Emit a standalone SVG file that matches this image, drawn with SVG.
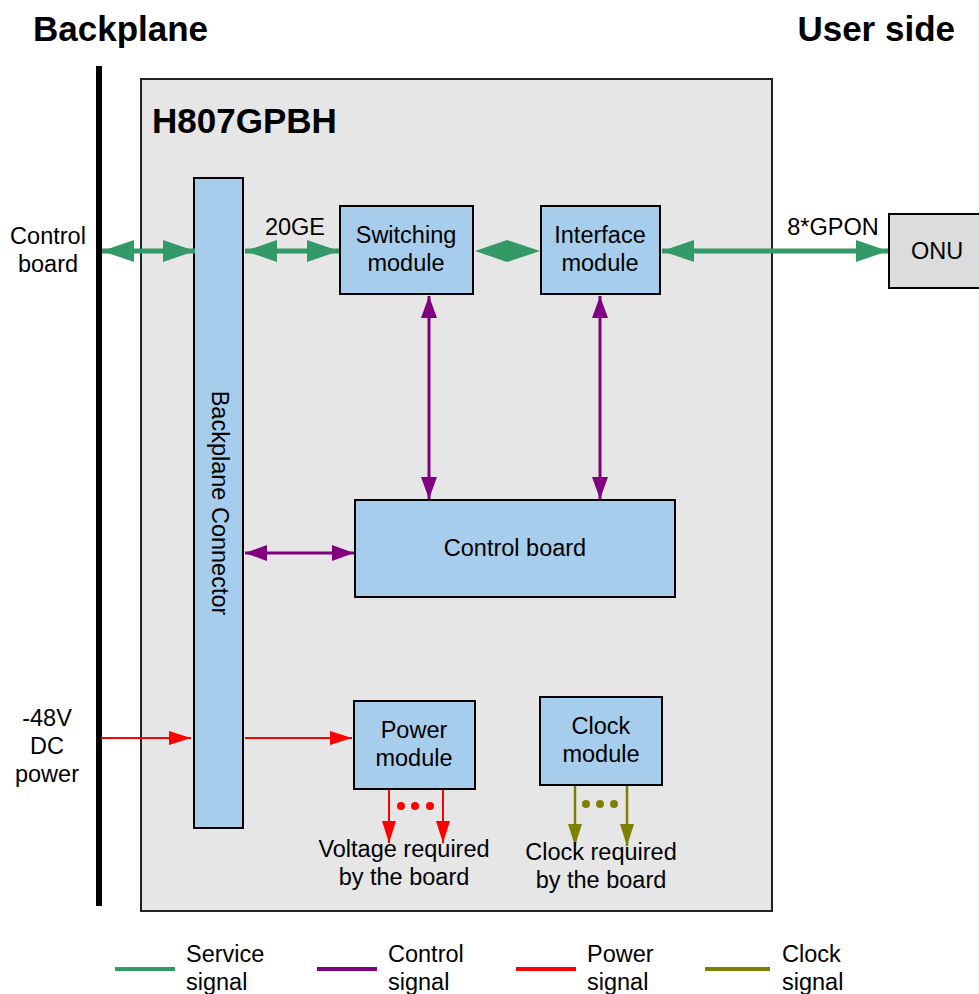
<svg xmlns="http://www.w3.org/2000/svg" width="979" height="994" viewBox="0 0 979 994">
<style>
text{font-family:"Liberation Sans",Arial,sans-serif;fill:#000}
.t{font-size:23.5px}
.tm{font-size:23.5px;text-anchor:middle}
.h{font-size:35px;font-weight:bold}
.blk{fill:#a6cdec;stroke:#000;stroke-width:2}
.g{stroke:#339966;stroke-width:5;fill:none}
.p{stroke:#800080;stroke-width:3;fill:none}
.r{stroke:#ff0000;stroke-width:2;fill:none}
.o{stroke:#808000;stroke-width:2.5;fill:none}
</style>
<defs>
<marker id="gh" viewBox="0 0 32 22" refX="32" refY="11" markerWidth="32" markerHeight="22" markerUnits="userSpaceOnUse" orient="auto-start-reverse"><path d="M0,0L32,11L0,22z" fill="#339966"/></marker>
<marker id="ph" viewBox="0 0 22 16" refX="22" refY="8" markerWidth="22" markerHeight="16" markerUnits="userSpaceOnUse" orient="auto-start-reverse"><path d="M0,0L22,8L0,16z" fill="#800080"/></marker>
<marker id="rh" viewBox="0 0 22 14" refX="22" refY="7" markerWidth="22" markerHeight="14" markerUnits="userSpaceOnUse" orient="auto-start-reverse"><path d="M0,0L22,7L0,14z" fill="#ff0000"/></marker>
<marker id="oh" viewBox="0 0 22 14" refX="22" refY="7" markerWidth="22" markerHeight="14" markerUnits="userSpaceOnUse" orient="auto-start-reverse"><path d="M0,0L22,7L0,14z" fill="#808000"/></marker>
</defs>
<rect width="979" height="994" fill="#fff"/>
<text class="h" x="33" y="41">Backplane</text>
<text class="h" x="955" y="41" text-anchor="end">User side</text>
<rect x="96" y="66" width="6" height="840" fill="#000"/>
<g id="board">
<rect x="141" y="79" width="631" height="832" fill="#e6e6e6" stroke="#222" stroke-width="2"/>
<text class="h" x="152" y="133">H807GPBH</text>
</g>
<g id="backplane-connector">
<rect class="blk" x="194" y="178" width="49" height="650"/>
<text class="t" transform="translate(212,503) rotate(90)" text-anchor="middle">Backplane Connector</text>
</g>
<g id="switching">
<rect class="blk" x="340" y="206" width="133" height="88"/>
<text class="tm" x="406" y="243">Switching</text>
<text class="tm" x="406" y="271">module</text>
</g>
<g id="interface">
<rect class="blk" x="541" y="206" width="119" height="88"/>
<text class="tm" x="600" y="243">Interface</text>
<text class="tm" x="600" y="271">module</text>
</g>
<g id="onu">
<rect x="889" y="214" width="95" height="74" fill="#dcdcdc" stroke="#000" stroke-width="2"/>
<text class="tm" x="937" y="259">ONU</text>
</g>
<g id="control">
<rect class="blk" x="355" y="500" width="320" height="97"/>
<text class="tm" x="515" y="556">Control board</text>
</g>
<g id="power">
<rect class="blk" x="354" y="701" width="121" height="88"/>
<text class="tm" x="414" y="738">Power</text>
<text class="tm" x="414" y="766">module</text>
</g>
<g id="clock">
<rect class="blk" x="540" y="697" width="122" height="88"/>
<text class="tm" x="601" y="734">Clock</text>
<text class="tm" x="601" y="762">module</text>
</g>
<g id="connectors">
<line class="g" x1="102" y1="251" x2="195" y2="251" marker-start="url(#gh)" marker-end="url(#gh)"/>
<line class="g" x1="245" y1="251" x2="339" y2="251" marker-start="url(#gh)" marker-end="url(#gh)"/>
<path d="M475,251L507,240L540,251L507,262z" fill="#339966"/>
<line class="g" x1="662" y1="251" x2="888" y2="251" marker-start="url(#gh)" marker-end="url(#gh)"/>
<line class="p" x1="429" y1="296" x2="429" y2="499" marker-start="url(#ph)" marker-end="url(#ph)"/>
<line class="p" x1="600" y1="296" x2="600" y2="499" marker-start="url(#ph)" marker-end="url(#ph)"/>
<line class="p" x1="245" y1="553" x2="354" y2="553" marker-start="url(#ph)" marker-end="url(#ph)"/>
<line class="r" x1="101" y1="738" x2="191" y2="738" marker-end="url(#rh)"/>
<line class="r" x1="245" y1="738" x2="352" y2="738" marker-end="url(#rh)"/>
<line class="r" x1="389" y1="790" x2="389" y2="843" marker-end="url(#rh)"/>
<line class="r" x1="443" y1="790" x2="443" y2="843" marker-end="url(#rh)"/>
<circle cx="401" cy="806" r="4" fill="#ff0000"/>
<circle cx="415" cy="806" r="4" fill="#ff0000"/>
<circle cx="430" cy="806" r="4" fill="#ff0000"/>
<line class="o" x1="575" y1="786" x2="575" y2="846" marker-end="url(#oh)"/>
<line class="o" x1="627" y1="786" x2="627" y2="846" marker-end="url(#oh)"/>
<circle cx="586" cy="804" r="4" fill="#808000"/>
<circle cx="600" cy="804" r="4" fill="#808000"/>
<circle cx="614" cy="804" r="4" fill="#808000"/>
</g>
<g id="labels">
<text class="tm" x="48" y="244">Control</text>
<text class="tm" x="48" y="272">board</text>
<text class="tm" x="295" y="235">20GE</text>
<text class="tm" x="833" y="235">8*GPON</text>
<text class="tm" x="47" y="726">-48V</text>
<text class="tm" x="47" y="754">DC</text>
<text class="tm" x="47" y="782">power</text>
<text class="tm" x="404" y="857">Voltage required</text>
<text class="tm" x="404" y="885">by the board</text>
<text class="tm" x="601" y="860">Clock required</text>
<text class="tm" x="601" y="888">by the board</text>
</g>
<g id="legend">
<line x1="115" y1="969" x2="175" y2="969" stroke="#339966" stroke-width="4"/>
<line x1="317" y1="969" x2="377" y2="969" stroke="#800080" stroke-width="4"/>
<line x1="516" y1="969" x2="576" y2="969" stroke="#ff0000" stroke-width="4"/>
<line x1="705" y1="969" x2="770" y2="969" stroke="#808000" stroke-width="4"/>
<text class="t" x="186" y="962">Service</text>
<text class="t" x="186" y="990">signal</text>
<text class="t" x="388" y="962">Control</text>
<text class="t" x="388" y="990">signal</text>
<text class="t" x="587" y="962">Power</text>
<text class="t" x="587" y="990">signal</text>
<text class="t" x="782" y="962">Clock</text>
<text class="t" x="782" y="990">signal</text>
</g>
</svg>
